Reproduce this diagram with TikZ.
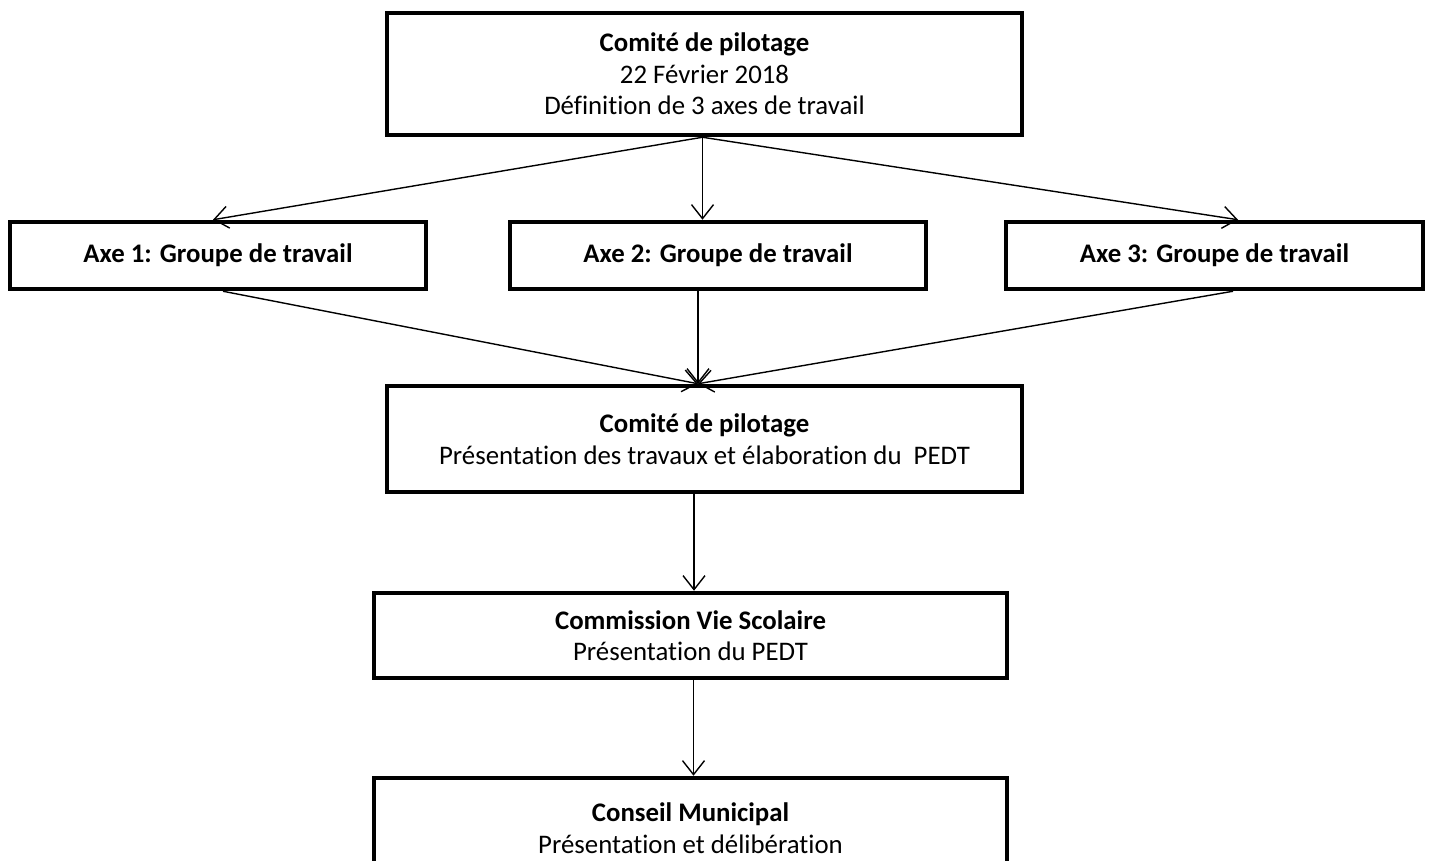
\documentclass[tikz,border=0pt]{standalone}
\usepackage{fontspec}
\setmainfont[Ligatures=NoCommon]{Carlito}
\usetikzlibrary{arrows.meta,calc}
\begin{document}
\begin{tikzpicture}[x=1pt,y=-1pt,
  box/.style={draw, line width=4.5pt, rectangle, align=center, inner sep=0pt,
    font=\fontsize{26.8}{31.5}\selectfont},
  link/.style={line width=1.4pt, -{Straight Barb[length=14pt,width=22pt]}}]
\fill[white] (0,0) rectangle (1429,861);
\useasboundingbox (0,0) rectangle (1429,861);
\node[box, minimum width=635pt, minimum height=122pt] (top) at (704.5,74)
  {\textbf{Comité de pilotage}\\22 Février 2018\\Définition de 3 axes de travail};
\node[box, minimum width=416pt, minimum height=67pt] (axe1) at (218,255.5) {\textbf{Axe 1: Groupe de travail}};
\node[box, minimum width=416pt, minimum height=67pt] (axe2) at (718,255.5) {\textbf{Axe 2: Groupe de travail}};
\node[box, minimum width=417pt, minimum height=67pt] (axe3) at (1214.5,255.5) {\textbf{Axe 3: Groupe de travail}};
\node[box, minimum width=635pt, minimum height=106pt] (mid) at (704.5,439)
  {\textbf{Comité de pilotage}\\Présentation des travaux et élaboration du\ \ PEDT};
\node[box, minimum width=633pt, minimum height=85pt] (comm) at (690.5,635.5)
  {\textbf{Commission Vie Scolaire}\\Présentation du PEDT};
\node[box, minimum width=633pt, minimum height=100pt] (cons) at (690.5,828)
  {\textbf{Conseil Municipal}\\Présentation et délibération};
% top to axes
\draw[link] ([xshift=-2pt]top.south) -- ([xshift=-5pt]axe1.north);
\draw[link] ([xshift=-2pt]top.south) -- ([xshift=-2pt]top.south |- axe2.north);
\draw[link] ([xshift=-2pt]top.south) -- ([xshift=23.5pt]axe3.north);
% axes to middle
\draw[link] ([xshift=5pt]axe1.south) -- ([xshift=-6.5pt]mid.north);
\draw[link] ([xshift=-6.5pt]mid.north |- axe2.south) -- ([xshift=-6.5pt]mid.north);
\draw[link] ([xshift=18.5pt]axe3.south) -- ([xshift=-6.5pt]mid.north);
% chain
\draw[link] ([xshift=3.5pt]comm.north |- mid.south) -- ([xshift=3.5pt]comm.north);
\draw[link] ([xshift=3pt]comm.south) -- ([xshift=3pt]cons.north);
\end{tikzpicture}
\end{document}
